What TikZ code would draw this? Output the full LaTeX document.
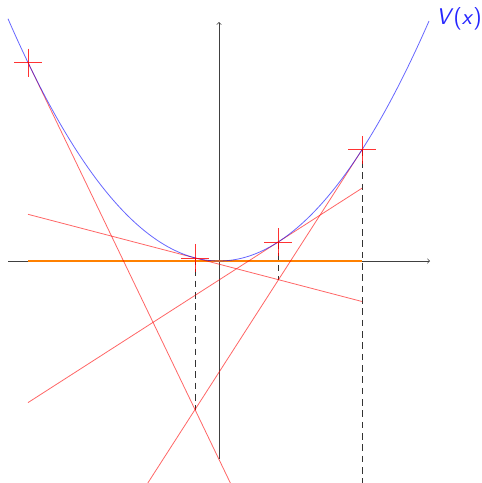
\documentclass[tikz,border=0pt]{standalone}
\usetikzlibrary{calc}
\begin{document}
\begin{tikzpicture}[x=0.75pt,y=-0.75pt,
  axis/.style={draw=black!75,line width=0.5pt,->},
  tangent/.style={draw=red,opacity=0.6,line width=0.6pt},
  curve/.style={draw=blue,opacity=0.6,line width=0.6pt},
  guide/.style={draw=black!80,dashed,dash pattern=on 5pt off 3.5pt,line width=0.6pt},
  pluscross/.style={draw=red,opacity=0.8,line width=0.6pt},
  level/.style={draw=orange,line width=2.2pt}]
\useasboundingbox (0,0) rectangle (482,483);
\clip (0,0) rectangle (482,483);
% points on the curve
\coordinate (P0) at (28,62.5);
\coordinate (P1) at (362,149.8);
\coordinate (P2) at (195,257.9);
\coordinate (P3) at (278,242.1);
% tangent end points
\coordinate (T0b) at (362,756.6);
\coordinate (T1a) at (28,669.4);
\coordinate (T2a) at (28,214.3);
\coordinate (T2b) at (362,301.5);
\coordinate (T3a) at (28,402.6);
\coordinate (T3b) at (362,188.2);
% feet of dashed lines
\coordinate (F2) at (195,409.5);
\coordinate (F3) at (278,279.6);
\coordinate (F1) at (362,490);
% axes
\coordinate (XL) at (8,261);
\coordinate (XR) at (430,261);
\coordinate (YB) at (219,459);
\coordinate (YT) at (219,22);
\coordinate (OL) at (28,261);
\coordinate (OR) at (362,261);
\draw[guide] (P2) -- (F2);
\draw[guide] (P3) -- (F3);
\draw[guide] (P1) -- (F1);
\draw[axis] (XL) -- (XR);
\draw[axis] (YB) -- (YT);
\draw[level] (OL) -- (OR);
\draw[tangent] (P0) -- (T0b);
\draw[tangent] (T1a) -- (P1);
\draw[tangent] (T2a) -- (T2b);
\draw[tangent] (T3a) -- (T3b);
\draw[curve] plot[domain=8:429,samples=120,smooth] (\x,{261-(0.073756*(\x-219))^2});
\foreach \p in {P0,P1,P2,P3}{
  \draw[pluscross] ($(\p)+(-14,0)$) -- ($(\p)+(14,0)$);
  \draw[pluscross] ($(\p)+(0,-14)$) -- ($(\p)+(0,14)$);
}
\node[text=blue!85,font=\fontsize{17}{20}\selectfont\sffamily] (V) at (459,19) {\textit{V}(\textit{x})};
\end{tikzpicture}
\end{document}
